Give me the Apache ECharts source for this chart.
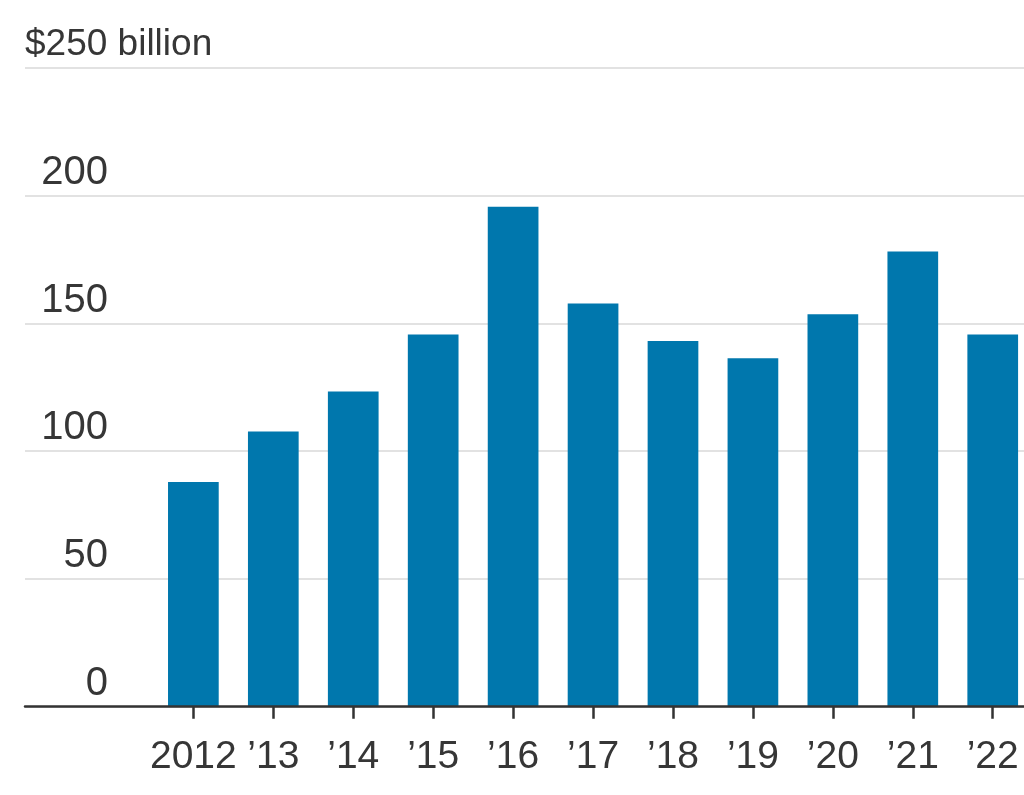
<!DOCTYPE html>
<html>
<head>
<meta charset="utf-8">
<script src="https://cdn.jsdelivr.net/npm/echarts@6/dist/echarts.min.js"></script>
<style>
  html, body { margin: 0; padding: 0; background: #ffffff; }
  #chart { width: 1024px; height: 795px; }
</style>
</head>
<body>
<div id="chart"></div>
<script>
// ---- data ----
const years = ['2012', '’13', '’14', '’15', '’16', '’17', '’18', '’19', '’20', '’21', '’22'];
const values = [88, 107.7, 123.4, 145.7, 195.7, 157.8, 143.1, 136.4, 153.6, 178.2, 145.7];
const yTicks = [0, 50, 100, 150, 200, 250];
const unitLabel = '$250 billion';

const FONT = '"Liberation Sans Narrow", "Liberation Sans", Arial, sans-serif';
const TEXT = '#363636';
const yMin = yTicks[0], yMax = yTicks[yTicks.length - 1], yStep = yTicks[1] - yTicks[0];

const chart = echarts.init(document.getElementById('chart'), null, { renderer: 'canvas' });

chart.setOption({
  animation: false,
  backgroundColor: '#ffffff',
  grid: [
    { left: 25, right: 0, top: 68, bottom: 88.3, outerBoundsMode: 'none', containLabel: false },
    { left: 153.4, width: 879.3, top: 68, bottom: 88.3, outerBoundsMode: 'none', containLabel: false }
  ],
  xAxis: [
    {
      gridIndex: 0, type: 'value', min: 0, max: 1,
      axisLine: { show: true, onZero: false, lineStyle: { color: '#333333', width: 2.5 } },
      axisTick: { show: false }, axisLabel: { show: false }, splitLine: { show: false },
      z: 10
    },
    {
      gridIndex: 1, type: 'category', data: years,
      axisLine: { show: false },
      axisTick: { show: true, alignWithLabel: true, length: 12, lineStyle: { color: '#333333', width: 2.5 } },
      axisLabel: { color: TEXT, fontFamily: FONT, fontSize: 39, margin: 31, interval: 0, hideOverlap: false },
      splitLine: { show: false }
    }
  ],
  yAxis: [
    {
      gridIndex: 0, type: 'value', min: yMin, max: yMax, interval: yStep,
      axisLine: { show: false }, axisTick: { show: false },
      splitLine: { show: true, lineStyle: { color: '#e2e2e2', width: 2 } },
      axisLabel: {
        inside: true, margin: 0, align: 'left', verticalAlign: 'bottom',
        color: TEXT, fontFamily: FONT, fontSize: 40,
        formatter: function (v) {
          if (v === yMax) return '{u|' + unitLabel + '}';
          return '{n|' + v + '}';
        },
        rich: {
          n: { width: 83, align: 'right', color: TEXT, fontFamily: FONT, fontSize: 40, padding: [0, 0, 3, 0] },
          u: { color: TEXT, fontFamily: FONT, fontSize: 37, padding: [0, 0, 5, 0] }
        }
      }
    },
    {
      gridIndex: 1, type: 'value', min: yMin, max: yMax, interval: yStep, show: false,
      splitLine: { show: false }
    }
  ],
  series: [
    {
      type: 'bar', xAxisIndex: 1, yAxisIndex: 1,
      data: values, barWidth: 50.7,
      itemStyle: { color: '#0077ad' },
      silent: true
    }
  ]
});
</script>
</body>
</html>
